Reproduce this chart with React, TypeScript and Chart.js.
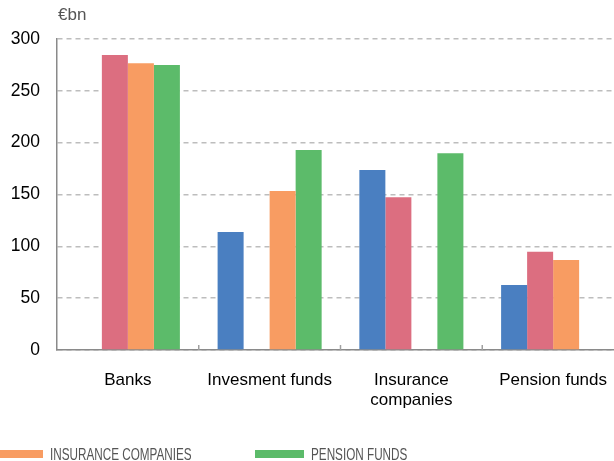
import React, { useEffect, useRef } from "react";
import { Chart, registerables } from "chart.js";

Chart.register(...registerables);

const categories: (string | string[])[] = ["Banks", "Invesment funds", ["Insurance", "companies"], "Pension funds"];
const seriesNames = ["BANKS", "INVESTMENT FUNDS", "INSURANCE COMPANIES", "PENSION FUNDS"];
const banksValues = [null, 113.8, 173.6, 62.7];
const investmentFundsValues = [284.6, null, 147.3, 94.8];
const insuranceValues = [276.5, 153.4, null, 86.8];
const pensionValues = [274.9, 192.9, 189.7, null];
const seriesColors = ["#4a7fc1", "#dc6e80", "#f89c62", "#5cbb6a"];
const legendShown = [2, 3];
const yTicks = [0, 50, 100, 150, 200, 250, 300];
const unitLabel = "€bn";

const FONT = "'Liberation Sans', Arial, Helvetica, sans-serif";

const boundaryTicks = {
  id: "boundaryTicks",
  afterDraw(chart: any) {
    const x = chart.scales.x;
    const ctx = chart.ctx;
    const bottom = chart.chartArea.bottom;
    ctx.save();
    ctx.strokeStyle = "#a0a0a0";
    ctx.lineWidth = 1.5;
    for (let i = 1; i < categories.length; i++) {
      const px = (x.getPixelForTick(i - 1) + x.getPixelForTick(i)) / 2;
      ctx.beginPath();
      ctx.moveTo(px, bottom - 5);
      ctx.lineTo(px, bottom);
      ctx.stroke();
    }
    ctx.restore();
  },
};

export default function App() {
  const canvasRef = useRef<HTMLCanvasElement | null>(null);

  useEffect(() => {
    if (!canvasRef.current) return;
    const allValues = [banksValues, investmentFundsValues, insuranceValues, pensionValues];
    const chart = new Chart(canvasRef.current, {
      type: "bar",
      data: {
        labels: categories,
        datasets: allValues.map((vals, i) => ({
          label: seriesNames[i],
          data: vals,
          backgroundColor: seriesColors[i],
          borderWidth: 0,
          categoryPercentage: 0.734,
          barPercentage: 1.0,
        })),
      },
      options: {
        responsive: false,
        animation: false,
        layout: { padding: { top: 39, left: 0, right: 0, bottom: 0 } },
        plugins: {
          legend: { display: false },
          tooltip: { enabled: false },
        },
        scales: {
          x: {
            grid: { display: false },
            border: { display: true, color: "#8a8a8a", width: 1.5 },
            ticks: {
              color: "#000",
              font: { family: FONT, size: 17, lineHeight: 1.2 },
              padding: 12,
              maxRotation: 0,
              autoSkip: false,
            },
            afterFit(scale: any) {
              scale.height = 111;
            },
          },
          y: {
            min: 0,
            max: 300,
            afterBuildTicks(scale: any) {
              scale.ticks = yTicks.map((v) => ({ value: v }));
            },
            grid: {
              color: "#bdbdbd",
              lineWidth: 1.5,
              drawTicks: false,
            },
            border: { display: true, color: "#8a8a8a", width: 1.5, dash: [5, 4] },
            ticks: {
              color: "#000",
              font: { family: FONT, size: 17.5 },
              padding: 17,
            },
            afterFit(scale: any) {
              scale.width = 57;
            },
          },
        },
      },
      plugins: [boundaryTicks],
    });
    return () => chart.destroy();
  }, []);

  return (
    <div style={{ position: "fixed", left: 0, top: 0, width: 614, height: 461, overflow: "hidden", background: "#fff" }}>
      <div style={{ position: "relative", width: 624, height: 461 }}>
        <canvas ref={canvasRef} width={624} height={461} style={{ width: 624, height: 461, display: "block" }} />
        <div style={{ position: "absolute", left: 58, top: 5, fontFamily: FONT, fontSize: 17, color: "#555" }}>{unitLabel}</div>
        {legendShown.map((idx, k) => (
          <div key={idx} style={{ position: "absolute", left: -6 + k * 261, top: 444, height: 20, display: "flex", alignItems: "center" }}>
            <div style={{ width: 49, height: 8, background: seriesColors[idx] }} />
            <div
              style={{
                marginLeft: 7,
                fontFamily: FONT,
                fontSize: 16.5,
                color: "#555",
                whiteSpace: "nowrap",
                transform: "scaleX(0.71)",
                transformOrigin: "left center",
              }}
            >
              {seriesNames[idx]}
            </div>
          </div>
        ))}
      </div>
    </div>
  );
}
